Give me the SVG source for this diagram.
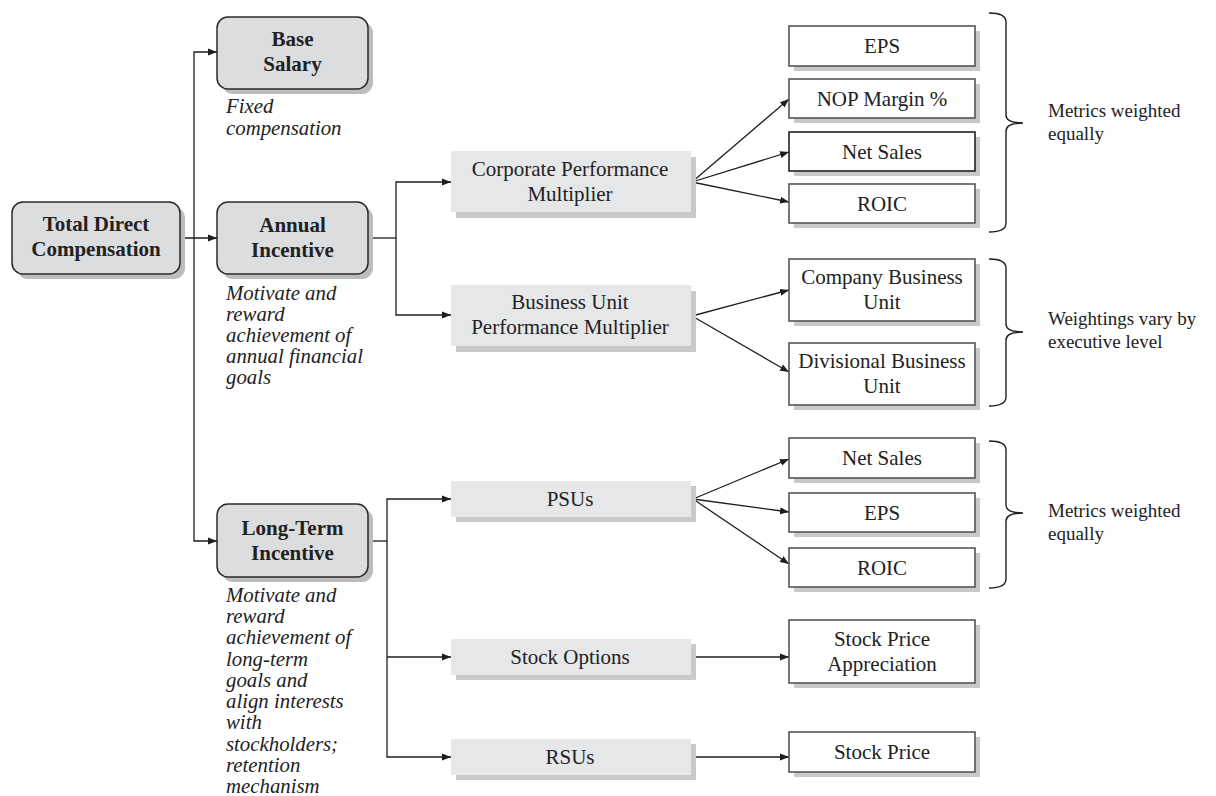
<svg xmlns="http://www.w3.org/2000/svg" width="1216" height="796" viewBox="0 0 1216 796">
<defs>
<marker id="ah" markerUnits="userSpaceOnUse" markerWidth="9" markerHeight="8" refX="9" refY="4" orient="auto">
<path d="M0,0.5 L9,4 L0,7.5 z" fill="#1e1e1e"/>
</marker>
</defs>
<style>
text{font-family:'Liberation Serif',Tinos,'Times New Roman',Times,'DejaVu Serif',serif}
.rb{fill:#dcdddf;stroke:#2a2a2a;stroke-width:1.5}
.rs{fill:#bcbdbf}
.lb{fill:#e6e7e8}
.ls{fill:#c8c9cb}
.wb{fill:#fff;stroke:#555;stroke-width:1.6}
.ws{fill:#c8c9cb}
.tb{font-weight:bold;font-size:21px;fill:#222;text-anchor:middle}
.t{font-size:21px;fill:#222;text-anchor:middle}
.ti{font-style:italic;font-size:20.8px;fill:#222}
.ts{font-size:19px;fill:#222}
.c{fill:none;stroke:#1e1e1e;stroke-width:1.3}
.br{fill:none;stroke:#1e1e1e;stroke-width:1.4}
</style>
<rect width="1216" height="796" fill="#fff"/>

<g id="connectors">
<path class="c" d="M180,238 H217" marker-end="url(#ah)"/>
<path class="c" d="M194,238 V52 H217" marker-end="url(#ah)"/>
<path class="c" d="M194,238 V541 H217" marker-end="url(#ah)"/>
<path class="c" d="M368,238 H396"/>
<path class="c" d="M396,238 V182 H451" marker-end="url(#ah)"/>
<path class="c" d="M396,238 V315 H451" marker-end="url(#ah)"/>
<path class="c" d="M692,182 L789,99" marker-end="url(#ah)"/>
<path class="c" d="M692,182 L789,152" marker-end="url(#ah)"/>
<path class="c" d="M692,182 L789,202" marker-end="url(#ah)"/>
<path class="c" d="M692,316 L789,290" marker-end="url(#ah)"/>
<path class="c" d="M692,316 L789,372" marker-end="url(#ah)"/>
<path class="c" d="M368,541 H387"/>
<path class="c" d="M387,541 V499 H451" marker-end="url(#ah)"/>
<path class="c" d="M387,541 V757 H451" marker-end="url(#ah)"/>
<path class="c" d="M387,657 H451" marker-end="url(#ah)"/>
<path class="c" d="M693,499 L789,459" marker-end="url(#ah)"/>
<path class="c" d="M693,499 L789,512" marker-end="url(#ah)"/>
<path class="c" d="M693,499 L789,564" marker-end="url(#ah)"/>
<path class="c" d="M693,657 H789" marker-end="url(#ah)"/>
<path class="c" d="M693,757 H789" marker-end="url(#ah)"/>
</g>

<g id="total">
<rect class="rs" x="17" y="207" width="168" height="72" rx="11"/>
<rect class="rb" x="12" y="202" width="168" height="72" rx="11"/>
<text class="tb" x="96" y="231">Total Direct</text>
<text class="tb" x="96" y="256">Compensation</text>
</g>

<g id="base">
<rect class="rs" x="222" y="22" width="151" height="72" rx="11"/>
<rect class="rb" x="217" y="17" width="151" height="72" rx="11"/>
<text class="tb" x="292.5" y="46">Base</text>
<text class="tb" x="292.5" y="71">Salary</text>
<text class="ti" x="226" y="113">Fixed</text>
<text class="ti" x="226" y="135">compensation</text>
</g>

<g id="annual">
<rect class="rs" x="222" y="207" width="151" height="72" rx="11"/>
<rect class="rb" x="217" y="202" width="151" height="72" rx="11"/>
<text class="tb" x="292.5" y="232">Annual</text>
<text class="tb" x="292.5" y="257">Incentive</text>
<text class="ti" x="226" y="300">Motivate and</text>
<text class="ti" x="226" y="321">reward</text>
<text class="ti" x="226" y="342">achievement of</text>
<text class="ti" x="226" y="363">annual financial</text>
<text class="ti" x="226" y="384">goals</text>
</g>

<g id="longterm">
<rect class="rs" x="222" y="509" width="151" height="73" rx="11"/>
<rect class="rb" x="217" y="504" width="151" height="73" rx="11"/>
<text class="tb" x="292.5" y="535">Long-Term</text>
<text class="tb" x="292.5" y="560">Incentive</text>
<text class="ti" x="226" y="602">Motivate and</text>
<text class="ti" x="226" y="623">reward</text>
<text class="ti" x="226" y="644">achievement of</text>
<text class="ti" x="226" y="666">long-term</text>
<text class="ti" x="226" y="687">goals and</text>
<text class="ti" x="226" y="708">align interests</text>
<text class="ti" x="226" y="729">with</text>
<text class="ti" x="226" y="751">stockholders;</text>
<text class="ti" x="226" y="772">retention</text>
<text class="ti" x="226" y="793">mechanism</text>
</g>

<g id="corporate">
<rect class="ls" x="456" y="157" width="240" height="61"/>
<rect class="lb" x="451" y="151" width="240" height="61"/>
<text class="t" x="570" y="176">Corporate Performance</text>
<text class="t" x="570" y="201">Multiplier</text>
</g>

<g id="bu">
<rect class="ls" x="456" y="291" width="240" height="61"/>
<rect class="lb" x="451" y="285" width="240" height="61"/>
<text class="t" x="570" y="309">Business Unit</text>
<text class="t" x="570" y="334">Performance Multiplier</text>
</g>

<g id="psus">
<rect class="ls" x="456" y="486" width="240" height="36"/>
<rect class="lb" x="451" y="481" width="240" height="36"/>
<text class="t" x="570" y="506">PSUs</text>
</g>

<g id="options">
<rect class="ls" x="456" y="644" width="240" height="36"/>
<rect class="lb" x="451" y="639" width="240" height="36"/>
<text class="t" x="570" y="664">Stock Options</text>
</g>

<g id="rsus">
<rect class="ls" x="456" y="744" width="240" height="36"/>
<rect class="lb" x="451" y="739" width="240" height="36"/>
<text class="t" x="570" y="764">RSUs</text>
</g>

<g id="eps1">
<rect class="ws" x="794" y="31" width="186" height="40"/>
<rect class="wb" x="789" y="26" width="186" height="40"/>
<text class="t" x="882" y="53">EPS</text>
</g>
<g id="nop">
<rect class="ws" x="794" y="84" width="186" height="39"/>
<rect class="wb" x="789" y="79" width="186" height="39"/>
<text class="t" x="882" y="106">NOP Margin %</text>
</g>
<g id="netsales1">
<rect class="ws" x="794" y="137" width="186" height="39"/>
<rect class="wb" x="789" y="132" width="186" height="39" style="stroke:#222"/>
<text class="t" x="882" y="159">Net Sales</text>
</g>
<g id="roic1">
<rect class="ws" x="794" y="189" width="186" height="39"/>
<rect class="wb" x="789" y="184" width="186" height="39"/>
<text class="t" x="882" y="211">ROIC</text>
</g>
<g id="company">
<rect class="ws" x="794" y="264" width="186" height="62"/>
<rect class="wb" x="789" y="259" width="186" height="62"/>
<text class="t" x="882" y="284">Company Business</text>
<text class="t" x="882" y="309">Unit</text>
</g>
<g id="divisional">
<rect class="ws" x="794" y="348" width="186" height="62"/>
<rect class="wb" x="789" y="343" width="186" height="62"/>
<text class="t" x="882" y="368">Divisional Business</text>
<text class="t" x="882" y="393">Unit</text>
</g>
<g id="netsales2">
<rect class="ws" x="794" y="443" width="186" height="40"/>
<rect class="wb" x="789" y="438" width="186" height="40"/>
<text class="t" x="882" y="465">Net Sales</text>
</g>
<g id="eps2">
<rect class="ws" x="794" y="498" width="186" height="39"/>
<rect class="wb" x="789" y="493" width="186" height="39"/>
<text class="t" x="882" y="520">EPS</text>
</g>
<g id="roic2">
<rect class="ws" x="794" y="553" width="186" height="39"/>
<rect class="wb" x="789" y="548" width="186" height="39"/>
<text class="t" x="882" y="575">ROIC</text>
</g>
<g id="spa">
<rect class="ws" x="794" y="625" width="186" height="63"/>
<rect class="wb" x="789" y="620" width="186" height="63"/>
<text class="t" x="882" y="646">Stock Price</text>
<text class="t" x="882" y="671">Appreciation</text>
</g>
<g id="sp">
<rect class="ws" x="794" y="737" width="186" height="40"/>
<rect class="wb" x="789" y="732" width="186" height="40"/>
<text class="t" x="882" y="759">Stock Price</text>
</g>

<g id="brace1">
<path class="br" d="M989,13 Q1006,13 1006,22 V115 Q1006,123 1023,123 Q1006,123 1006,131 V223 Q1006,232 989,232"/>
<text class="ts" x="1048" y="117">Metrics weighted</text>
<text class="ts" x="1048" y="140">equally</text>
</g>
<g id="brace2">
<path class="br" d="M989,259 Q1006,259 1006,268 V324 Q1006,332 1023,332 Q1006,332 1006,340 V397 Q1006,406 989,406"/>
<text class="ts" x="1048" y="325">Weightings vary by</text>
<text class="ts" x="1048" y="348">executive level</text>
</g>
<g id="brace3">
<path class="br" d="M989,441 Q1006,441 1006,450 V505 Q1006,513 1023,513 Q1006,513 1006,521 V579 Q1006,588 989,588"/>
<text class="ts" x="1048" y="517">Metrics weighted</text>
<text class="ts" x="1048" y="540">equally</text>
</g>
</svg>
